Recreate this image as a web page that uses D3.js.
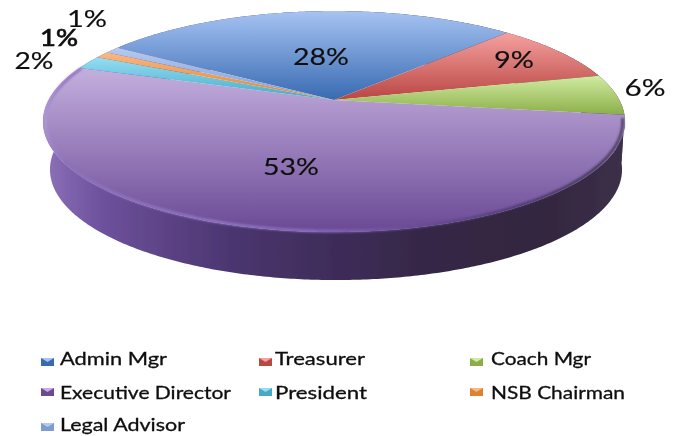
<!DOCTYPE html>
<html><head><meta charset="utf-8">
<script src="https://cdn.jsdelivr.net/npm/d3@7"></script>
<style>html,body{margin:0;padding:0;background:#fff}svg{display:block}</style></head>
<body><div id="c"></div>
<script>
const categories = ["Admin Mgr","Treasurer","Coach Mgr","Executive Director","President","NSB Chairman","Legal Advisor"];
const values = [28,9,6,53,2,1,1];
const labels = ["28%","9%","6%","53%","2%","1%","1%"];
const topColors = ["#a6c3f2","#f5a19f","#d0eca2","#c4afde","#93def4","#fab87f","#b6caf0"];
const botColors = ["#386ab2","#b94643","#8cae48","#6a4995","#46a9c6","#dc8232","#7f9bd0"];

const W=682,H=436;
const svg=d3.select("#c").append("svg").attr("width",W).attr("height",H);
const defs=svg.append("defs");
const addBlur=(id,s)=>defs.append("filter").attr("id",id).attr("x","-10%").attr("y","-10%").attr("width","120%").attr("height","120%").append("feGaussianBlur").attr("stdDeviation",s);
addBlur("soft",0.7);addBlur("txt",0.45);addBlur("glow",1.1);

// perspective projection of the disc: apex of the wedges sits above the ellipse centre
const cx=334,cy=100,A=285.4,B=106.3,k=-0.195,depth=48,wallScale=0.983,wallDx=2;
const project=(t,dy=0,s=1,dx=0)=>{const u=Math.sin(t),v=-Math.cos(t),w=1+k*v;
  return [cx+dx+s*A*u/w,cy+B*v/w+dy];};
const projectIn=(t,s)=>{const p=project(t),c=[cx,122];return [c[0]+(p[0]-c[0])*s,c[1]+(p[1]-c[1])*s];};
const pie=d3.pie().sort(null).value(d=>d).startAngle(-57*Math.PI/180).endAngle(303*Math.PI/180);
const arcs=pie(values);
const line=d3.line();
const rimPts=(a,b,dy=0,s=1,dx=0)=>{const n=Math.max(2,Math.ceil((b-a)/0.01));return d3.range(n+1).map(i=>project(a+(b-a)*i/n,dy,s,dx));};

categories.forEach((c,i)=>{
  const g=defs.append("linearGradient").attr("id","top"+i).attr("x1",0).attr("y1",0).attr("x2",0).attr("y2",1);
  g.append("stop").attr("offset",0).attr("stop-color",topColors[i]);
  g.append("stop").attr("offset",1).attr("stop-color",botColors[i]);
});
const hGrad=(id,stops)=>{const g=defs.append("linearGradient").attr("id",id).attr("gradientUnits","userSpaceOnUse")
  .attr("x1",43).attr("x2",626).attr("y1",0).attr("y2",0);
  stops.forEach(s=>g.append("stop").attr("offset",s[0]).attr("stop-color",s[1]));};
hGrad("side",[[0,"#8f74bb"],[0.04,"#8064ae"],[0.1,"#6e519c"],[0.2,"#5e4488"],[0.32,"#4c3670"],[0.5,"#3e2c59"],[0.67,"#352746"],[0.85,"#33263f"],[1,"#3c3049"]]);
hGrad("rim",[[0,"#b0a0d8"],[0.012,"#a08ad0"],[0.04,"#8b70bc"],[0.3,"#9478c6"],[0.48,"#8a6cb8"],[0.62,"#6d4f98"],[0.8,"#4f3a70"],[0.95,"#40324f"],[1,"#4a3d5c"]]);

const chart=svg.append("g").attr("filter","url(#soft)");
// extruded wall: the lower edge recedes slightly
chart.selectAll("path.side").data(arcs).join("path").attr("class","side")
  .attr("d",d=>line(rimPts(d.startAngle,d.endAngle).concat(rimPts(d.startAngle,d.endAngle,depth,wallScale,wallDx).reverse()))+"Z")
  .attr("fill","url(#side)");
// top faces
chart.selectAll("path.face").data(arcs).join("path").attr("class","face")
  .attr("d",d=>line([[cx,cy]].concat(rimPts(d.startAngle,d.endAngle)))+"Z")
  .attr("fill",(d,i)=>`url(#top${i})`);
// bevel on the near rim of the largest slice
const big=arcs[3];
const bevel=d3.range(0,1.0001,0.005).map(f=>projectIn(big.startAngle+0.03+(big.endAngle-big.startAngle-0.03)*f,0.992));
chart.append("path").attr("d",line(bevel)).attr("fill","none").attr("stroke","url(#rim)").attr("stroke-width",2.6).attr("filter","url(#glow)");

// data labels
const labelPos=[[321,57],[514,60],[645,88],[291,167],[34,61],[59,38],[87,19]];
const labelW=[56,40,41,56,39,38,40];
svg.append("g").attr("filter","url(#txt)").selectAll("text").data(labels).join("text")
  .attr("x",(d,i)=>labelPos[i][0]).attr("y",(d,i)=>labelPos[i][1]+8)
  .attr("text-anchor","middle").attr("font-family","Lato").attr("font-size",23)
  .attr("textLength",(d,i)=>labelW[i]).attr("lengthAdjust","spacingAndGlyphs")
  .attr("stroke","#111").attr("stroke-width",(d,i)=>i===5?0.7:0.15)
  .attr("fill","#111").text(d=>d);

// legend
const legX=[41,259,470],legTX=[60,275,491],legIY=[358,388,423],legBase=[365,399,431];
const legW=[107,90,100,171,92,134,125];
const leg=svg.append("g").attr("filter","url(#txt)");
categories.forEach((c,i)=>{
  const col=i%3,row=Math.floor(i/3),x=legX[col],y=legIY[row];
  leg.append("rect").attr("x",x).attr("y",y).attr("width",13).attr("height",8).attr("fill",botColors[i]);
  leg.append("path").attr("d",line([[x,y],[x+13,y],[x+6.5,y+4]])+"Z").attr("fill",topColors[i]);
  leg.append("text").attr("x",legTX[col]).attr("y",legBase[row]).attr("font-family","Lato").attr("font-size",17)
    .attr("textLength",legW[i]).attr("lengthAdjust","spacingAndGlyphs")
    .attr("stroke","#111").attr("stroke-width",0.3).attr("fill","#111").text(c);
});
</script></body></html>
